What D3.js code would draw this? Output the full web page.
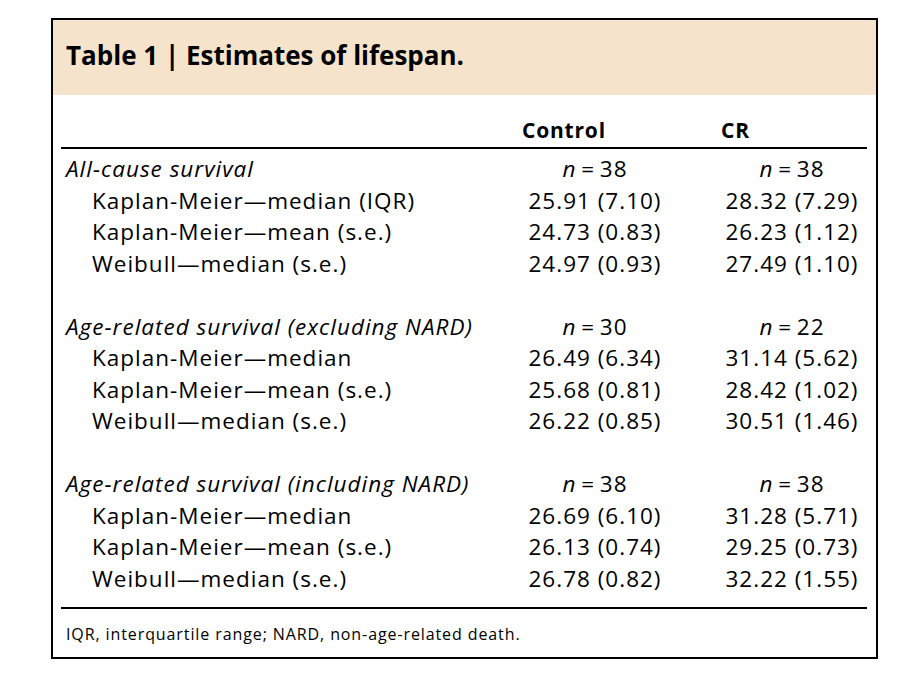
<!DOCTYPE html>
<html>
<head>
<meta charset="utf-8">
<script src="https://cdn.jsdelivr.net/npm/d3@7"></script>
<style>
  body { margin: 0; background: #fff; }
  svg text { font-family: "Open Sans", "Noto Sans", sans-serif; fill: #000; }
</style>
</head>
<body>
<div id="chart"></div>
<script>

// Table content
const title = 'Table 1 | Estimates of lifespan.'
const columns = ['Control', 'CR']
const groups = [
  'All-cause survival',
  'Age-related survival (excluding NARD)',
  'Age-related survival (including NARD)'
]
const group_n = [[38, 38], [30, 22], [38, 38]]
const row_labels = [
  ['Kaplan-Meier\u2014median (IQR)', 'Kaplan-Meier\u2014mean (s.e.)', 'Weibull\u2014median (s.e.)'],
  ['Kaplan-Meier\u2014median', 'Kaplan-Meier\u2014mean (s.e.)', 'Weibull\u2014median (s.e.)'],
  ['Kaplan-Meier\u2014median', 'Kaplan-Meier\u2014mean (s.e.)', 'Weibull\u2014median (s.e.)']
]
const control_values = [
  ['25.91 (7.10)', '24.73 (0.83)', '24.97 (0.93)'],
  ['26.49 (6.34)', '25.68 (0.81)', '26.22 (0.85)'],
  ['26.69 (6.10)', '26.13 (0.74)', '26.78 (0.82)']
]
const cr_values = [
  ['28.32 (7.29)', '26.23 (1.12)', '27.49 (1.10)'],
  ['31.14 (5.62)', '28.42 (1.02)', '30.51 (1.46)'],
  ['31.28 (5.71)', '29.25 (0.73)', '32.22 (1.55)']
]
const footnote = 'IQR, interquartile range; NARD, non-age-related death.'

const W = 911, H = 677
const box = { left: 52, top: 19, right: 877, bottom: 658 }
const band_h = 76
const body_font = { size: 22.5, spacing: 1 }

let svg = d3.select('#chart')
  .append('svg')
  .attr('width', W)
  .attr('height', H)

// Header band and frame
svg.append('rect')
  .attr('x', box.left).attr('y', box.top)
  .attr('width', box.right - box.left).attr('height', band_h)
  .attr('fill', '#f5e4cb')

svg.append('rect')
  .attr('x', box.left).attr('y', box.top)
  .attr('width', box.right - box.left).attr('height', box.bottom - box.top)
  .attr('fill', 'none')
  .attr('stroke', '#000')
  .attr('stroke-width', 2)

svg.append('text')
  .attr('x', 66).attr('y', 65)
  .attr('font-size', 26)
  .attr('font-weight', 700)
  .text(title)

// Build flat row list: group header, 3 rows, blank spacer
let rows = []
groups.forEach((g, gi) => {
  rows.push({ type: 'group', label: g, vals: group_n[gi] })
  row_labels[gi].forEach((lab, ri) => {
    rows.push({ type: 'row', label: lab, vals: [control_values[gi][ri], cr_values[gi][ri]] })
  })
  if (gi < groups.length - 1) rows.push({ type: 'blank' })
})

let y = d3.scalePoint()
  .domain(d3.range(rows.length))
  .range([177, 587])

let x = d3.scalePoint()
  .domain(columns)
  .range([595, 792])

// Column headers
svg.selectAll('.col-head')
  .data(columns)
  .enter()
  .append('text')
    .attr('class', 'col-head')
    .attr('x', (d, i) => i == 0 ? 522 : 721)
    .attr('y', 138)
    .attr('font-size', 21)
    .attr('letter-spacing', 0.8)
    .attr('font-weight', 700)
    .text(d => d)

// Rules
svg.append('line')
  .attr('x1', 61).attr('x2', 867)
  .attr('y1', 148).attr('y2', 148)
  .attr('stroke', '#000').attr('stroke-width', 2)

svg.append('line')
  .attr('x1', 61).attr('x2', 867)
  .attr('y1', 608).attr('y2', 608)
  .attr('stroke', '#000').attr('stroke-width', 2)

// Body rows
let body = svg.selectAll('.row')
  .data(rows.map((r, i) => ({ ...r, i })).filter(r => r.type != 'blank'))
  .enter()
  .append('g')
    .attr('class', 'row')
    .attr('transform', d => `translate(0, ${y(d.i)})`)

body.append('text')
  .attr('x', d => d.type == 'group' ? 66 : 92)
  .attr('font-size', body_font.size)
  .attr('letter-spacing', body_font.spacing)
  .attr('font-style', d => d.type == 'group' ? 'italic' : 'normal')
  .text(d => d.label)

body.each(function (d) {
  let g = d3.select(this)
  columns.forEach((c, ci) => {
    let t = g.append('text')
      .attr('x', x(c))
      .attr('text-anchor', 'middle')
      .attr('font-size', body_font.size)
      .attr('letter-spacing', body_font.spacing)
    if (d.type == 'group') {
      t.append('tspan').attr('font-style', 'italic').text('n')
      t.append('tspan').text('\u2009=\u2009' + d.vals[ci])
    } else {
      t.text(d.vals[ci])
    }
  })
})

// Footnote
svg.append('text')
  .attr('x', 66).attr('y', 640)
  .attr('font-size', 16)
  .attr('letter-spacing', 0.9)
  .text(footnote)

</script>
</body>
</html>
